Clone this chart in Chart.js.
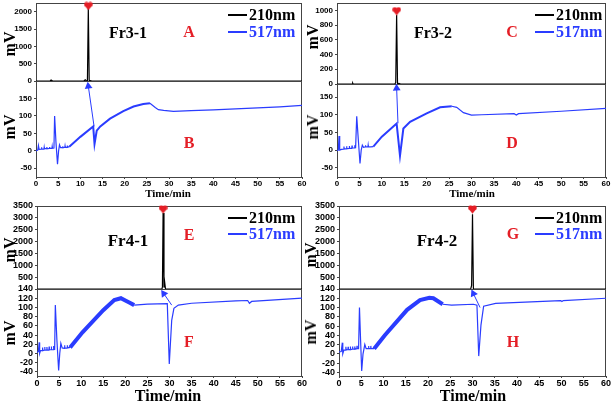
<!DOCTYPE html>
<html>
<head>
<meta charset="utf-8">
<script src="https://cdn.jsdelivr.net/npm/chart.js@4.4.1/dist/chart.umd.min.js"></script>
<style>
html, body { margin: 0; padding: 0; background: #fff; }
#wrap { position: relative; width: 614px; height: 404px; overflow: hidden; }
canvas { position: absolute; }
.t { position: absolute; font-family: "Liberation Serif", "Times New Roman", serif; font-weight: bold; white-space: nowrap; line-height: 1; }
</style>
</head>
<body>
<div id="wrap"></div>
<script>
// x axis (Time/min)
const xTicks = [0, 5, 10, 15, 20, 25, 30, 35, 40, 45, 50, 55, 60];

// y tick labels
const ticksA = [0, 500, 1000, 1500, 2000];
const ticksB = [-50, 0, 50, 100, 150];
const ticksC = [0, 200, 400, 600, 800, 1000];
const ticksD = [-50, 0, 50, 100, 150];
const ticksE = [500, 1000, 1500, 2000, 2500, 3000, 3500];
const ticksF = [-40, -20, 0, 20, 40, 60, 80, 100, 120, 140];
const ticksG = [500, 1000, 1500, 2000, 2500, 3000, 3500];
const ticksH = [-40, -20, 0, 20, 40, 60, 80, 100, 120, 140];

// 210nm traces [time, mV]
const a210 = [[0,0],[3.2,0],[3.4,28],[3.6,-25],[3.8,0],[10.8,0],[11.1,35],[11.4,0],[11.6,0],[11.8,2100],[12.0,0],[12.3,10],[12.6,0],[60,0]];
const c210 = [[0,0],[3.4,0],[3.5,12],[3.6,0],[12.9,0],[13.1,20],[13.3,940],[13.5,0],[13.8,8],[14.2,0],[60,0]];
const e210 = [[0,0],[28.3,0],[28.4,100],[28.55,3200],[28.75,60],[28.9,300],[29.1,0],[60,0]];
const g210 = [[0,0],[29.6,0],[29.8,150],[30.0,3150],[30.2,0],[60,0]];

// 517nm traces [time, mV]
const b517 = [[0,0],[0.4,2],[0.55,15],[0.7,4],[1.2,5],[1.25,10],[1.3,5],[1.8,5],[1.85,10],[1.9,6],[2.4,6],[2.45,11],[2.5,6],[3.0,7],[3.05,11],[3.1,7],[3.6,7],[3.65,12],[3.7,7],[4.05,8],[4.2,100],[4.5,25],[4.85,-38],[5.1,0],[5.3,17],[5.55,9],[6.0,9],[6.05,13],[6.1,9],[6.5,10],[6.55,14],[6.6,10],[7.0,10],[7.05,15],[7.1,10],[7.5,12],[10,40],[12.9,70],[13.2,20],[13.7,58],[14.5,70],[16.7,92],[19.7,114],[22,127],[24.2,134],[25.7,136],[26.9,124],[27.6,118],[28.8,116],[31,113],[35,115],[40,117],[45,120],[50,123],[55,126],[60,130]];
const d517 = [[0,-2],[0.3,0],[0.45,40],[0.6,0],[1.0,2],[1.5,3],[1.55,10],[1.6,3],[2.1,4],[2.15,11],[2.2,4],[2.7,5],[2.75,12],[2.8,5],[3.3,5],[3.35,13],[3.4,6],[3.9,6],[3.95,14],[4.0,7],[4.15,7],[4.4,96],[4.75,30],[5.13,-38],[5.4,0],[5.65,14],[5.9,8],[6.3,9],[6.35,14],[6.4,9],[6.9,9],[6.95,14],[7.0,9],[7.5,9],[8.1,10],[10,38],[13.3,75],[14.05,-16],[14.8,61],[16.3,80],[20,104],[23,121],[25.6,124],[26.7,121],[28.2,106],[30,99],[32.3,100],[39.5,103],[40,99],[40.5,103],[50,110],[60,118]];
const f517 = [[0,2],[0.3,4],[0.5,24],[0.6,0],[0.8,6],[1.2,6],[1.25,13],[1.3,6],[1.7,7],[1.75,14],[1.8,7],[2.2,7],[2.25,14],[2.3,7],[2.7,7],[2.75,15],[2.8,8],[3.2,8],[3.25,15],[3.3,8],[3.7,8],[3.75,16],[3.8,9],[4.0,9],[4.15,105],[4.5,30],[4.9,-37],[5.15,0],[5.4,22],[5.7,12],[6.2,11],[6.25,18],[6.3,11],[6.8,12],[6.85,18],[6.9,12],[7.5,13],[10.3,46],[15,94],[17.5,116],[19,120],[20,115],[21,110],[22,105],[25,107],[29.5,108],[29.95,-23],[30.5,72],[31,98],[32,105],[35,109],[45,114],[47.7,115],[48.1,109],[48.6,113],[60,120]];
const h517 = [[0,4],[0.5,5],[0.75,24],[0.85,0],[1.1,8],[1.5,8],[1.55,15],[1.6,8],[2.0,9],[2.05,15],[2.1,9],[2.5,9],[2.55,16],[2.6,9],[3.0,10],[3.05,16],[3.1,10],[3.5,10],[3.55,16],[3.6,10],[4.0,11],[4.05,17],[4.1,11],[4.4,11],[4.6,100],[4.85,30],[5.1,-37],[5.4,0],[5.8,20],[6.1,11],[6.6,11],[6.65,17],[6.7,11],[7.1,11],[7.15,17],[7.2,11],[7.9,11],[10.3,40],[15.3,95],[18.2,116],[20.3,121],[21.2,120],[23.3,107],[25.3,105],[30.2,107],[31.0,105],[31.4,-5],[31.9,62],[32.5,103],[35.2,109],[49.8,115],[50.1,113],[50.4,115],[60,120]];

// arrows (from trace up to the peak) and heart markers on the peaks
const arrowB = [[13.1,70],[11.8,185]];
const arrowD = [[13.6,76],[13.3,175]];
const arrowF = [[30.5,105],[28.7,130]];
const arrowH = [[31.7,100],[30.2,130]];
const heartA = [[11.8,2165]];
const heartC = [[13.3,990]];
const heartE = [[28.55,3360]];
const heartG = [[30.0,3360]];

const BLUE = '#2a3cff';
const RED = '#e41e26';
const FRAME = '#444';
const wrap = document.getElementById('wrap');

function heartImg(size) {
    const c = document.createElement('canvas');
    c.width = c.height = size;
    const g = c.getContext('2d');
    const s = size;
    g.fillStyle = RED;
    g.beginPath(); g.arc(s * 0.29, s * 0.32, s * 0.27, 0, Math.PI * 2); g.fill();
    g.beginPath(); g.arc(s * 0.71, s * 0.32, s * 0.27, 0, Math.PI * 2); g.fill();
    g.beginPath(); g.moveTo(s * 0.04, s * 0.42); g.lineTo(s * 0.96, s * 0.42); g.lineTo(s * 0.5, s * 0.98); g.closePath(); g.fill();
    return c;
}
const heart = heartImg(9);

const frame = {
    id: 'frame',
    beforeDatasetsDraw(chart) {
        const { ctx, chartArea: a } = chart;
        ctx.save();
        ctx.strokeStyle = FRAME;
        ctx.lineWidth = 1;
        ctx.strokeRect(a.left + 0.5, a.top + 0.5, a.right - a.left - 1, a.bottom - a.top);
        ctx.restore();
    }
};

const YW = 36, PT = 8, PR = 10, PB = 8;

function addChart(L, T, W, H, xh, yr, yTicks, sets, fs) {
    const c = document.createElement('canvas');
    const cw = YW + W + PR, ch = PT + H + xh + PB;
    c.style.left = (L - YW) + 'px';
    c.style.top = (T - PT) + 'px';
    c.style.width = cw + 'px';
    c.style.height = ch + 'px';
    c.width = cw;
    c.height = ch;
    wrap.appendChild(c);
    const tickFont = { family: 'Liberation Sans', weight: 'bold', size: fs };
    return new Chart(c, {
        type: 'line',
        data: { datasets: sets },
        options: {
            responsive: false,
            animation: false,
            events: [],
            layout: { padding: { top: PT, right: PR, left: 0, bottom: PB }, autoPadding: false },
            plugins: { legend: { display: false }, tooltip: { enabled: false } },
            scales: {
                x: {
                    type: 'linear', min: 0, max: 60, display: xh > 0,
                    afterBuildTicks: s => { s.ticks = xTicks.map(v => ({ value: v })); },
                    afterFit: s => { s.height = xh; },
                    grid: { drawOnChartArea: false, tickLength: 2, color: FRAME },
                    border: { display: false },
                    ticks: { font: tickFont, color: '#000', padding: 0, maxRotation: 0, autoSkip: false, callback: v => String(v) }
                },
                y: {
                    type: 'linear', min: yr[0], max: yr[1],
                    afterBuildTicks: s => { s.ticks = yTicks.map(v => ({ value: v })); },
                    afterFit: s => { s.width = YW; },
                    grid: { drawOnChartArea: false, tickLength: 2, color: FRAME },
                    border: { display: false },
                    ticks: { font: tickFont, color: '#000', padding: 2, autoSkip: false, callback: v => String(v) }
                }
            }
        },
        plugins: [frame]
    });
}

function trace(data, color, band) {
    const ds = { data: data, borderColor: color, borderWidth: 1.2, pointRadius: 0, tension: 0 };
    if (band) {
        ds.segment = {
            borderWidth: ctx => (ctx.p0.parsed.x >= band[0] && ctx.p1.parsed.x <= band[1]) ? band[2] : 1.2
        };
    }
    return ds;
}
function heartSet(data) {
    return { data: data, showLine: false, pointStyle: heart, pointRadius: 5, clip: false };
}
function arrowSet(data, rot) {
    return {
        data: data, borderColor: BLUE, borderWidth: 1, pointRadius: [0, 4.5],
        pointStyle: 'triangle', rotation: [0, rot], pointBackgroundColor: BLUE,
        pointBorderColor: BLUE, pointBorderWidth: 0, clip: false
    };
}

function label(text, x, y, size, color, rotate, left) {
    const d = document.createElement('div');
    d.className = 't';
    d.textContent = text;
    d.style.left = x + 'px';
    d.style.top = y + 'px';
    d.style.fontSize = size + 'px';
    d.style.color = color;
    d.style.transform = (left ? 'translate(0,-50%)' : 'translate(-50%,-50%)') + (rotate ? ' rotate(-90deg)' : '');
    wrap.appendChild(d);
}
function legendLine(x, y, color) {
    const d = document.createElement('div');
    d.style.position = 'absolute';
    d.style.left = x + 'px';
    d.style.top = (y - 1) + 'px';
    d.style.width = '19px';
    d.style.height = '2px';
    d.style.background = color;
    wrap.appendChild(d);
}

const panels = [
    { name: 'Fr3-1', l: 36, r: 302, t: 3, m: 81, b: 177, fs: 8,
      top: { data: a210, heart: heartA, range: [0, 2250], ticks: ticksA, letter: 'A' },
      bot: { data: b517, arrow: arrowB, rot: -8, band: [7.5, 26, 2], range: [-75, 200], ticks: ticksB, letter: 'B' },
      txt: { nameX: 128, nameY: 33, letX: 189, topY: 32, botY: 143, legX: 228, leg1: 15, leg2: 32, mvX: 10, mv1: 44, mv2: 127, mvS: 16, tmX: 168, tmY: 193, tmS: 11, nameS: 16 } },
    { name: 'Fr3-2', l: 337, r: 606, t: 3, m: 84, b: 177, fs: 8,
      top: { data: c210, heart: heartC, range: [0, 1100], ticks: ticksC, letter: 'C' },
      bot: { data: d517, arrow: arrowD, rot: -2, band: [8, 26, 2], range: [-76, 187], ticks: ticksD, letter: 'D' },
      txt: { nameX: 433, nameY: 33, letX: 512, topY: 32, botY: 143, legX: 535, leg1: 15, leg2: 32, mvX: 313, mv1: 37, mv2: 127, mvS: 16, tmX: 472, tmY: 193, tmS: 11, nameS: 16 } },
    { name: 'Fr4-1', l: 37, r: 302, t: 206, m: 289, b: 376, fs: 9,
      top: { data: e210, heart: heartE, range: [0, 3500], ticks: ticksE, letter: 'E' },
      bot: { data: f517, arrow: arrowF, rot: -35, band: [7.5, 22.5, 4], range: [-49, 140], ticks: ticksF, letter: 'F' },
      txt: { nameX: 128, nameY: 240, letX: 189, topY: 235, botY: 342, legX: 228, leg1: 218, leg2: 234, mvX: 10, mv1: 250, mv2: 333, mvS: 16, tmX: 168, tmY: 396, tmS: 16, nameS: 17 } },
    { name: 'Fr4-2', l: 339, r: 606, t: 206, m: 289, b: 376, fs: 9,
      top: { data: g210, heart: heartG, range: [0, 3500], ticks: ticksG, letter: 'G' },
      bot: { data: h517, arrow: arrowH, rot: -26, band: [7.9, 24, 4], range: [-48, 140], ticks: ticksH, letter: 'H' },
      txt: { nameX: 437, nameY: 240, letX: 513, topY: 234, botY: 342, legX: 535, leg1: 218, leg2: 234, mvX: 311, mv1: 255, mv2: 332, mvS: 16, tmX: 473, tmY: 396, tmS: 16, nameS: 17 } }
];

panels.forEach(p => {
    const w = p.r - p.l;
    addChart(p.l, p.t, w, p.m - p.t, 0, p.top.range, p.top.ticks,
        [heartSet(p.top.heart), trace(p.top.data, '#000')], p.fs);
    addChart(p.l, p.m, w, p.b - p.m, 14, p.bot.range, p.bot.ticks,
        [arrowSet(p.bot.arrow, p.bot.rot), trace(p.bot.data, BLUE, p.bot.band)], p.fs);

    const s = p.txt;
    label(p.name, s.nameX, s.nameY, s.nameS, '#000');
    label(p.top.letter, s.letX, s.topY, 16, RED);
    label(p.bot.letter, s.letX, s.botY, 16, RED);
    legendLine(s.legX, s.leg1, '#000');
    legendLine(s.legX, s.leg2, BLUE);
    label('210nm', s.legX + 21, s.leg1, 16, '#000', false, true);
    label('517nm', s.legX + 21, s.leg2, 16, BLUE, false, true);
    label('mV', s.mvX, s.mv1, s.mvS, '#000', true);
    label('mV', s.mvX, s.mv2, s.mvS, '#000', true);
    label('Time/min', s.tmX, s.tmY, s.tmS, '#000');
});
</script>
</body>
</html>
